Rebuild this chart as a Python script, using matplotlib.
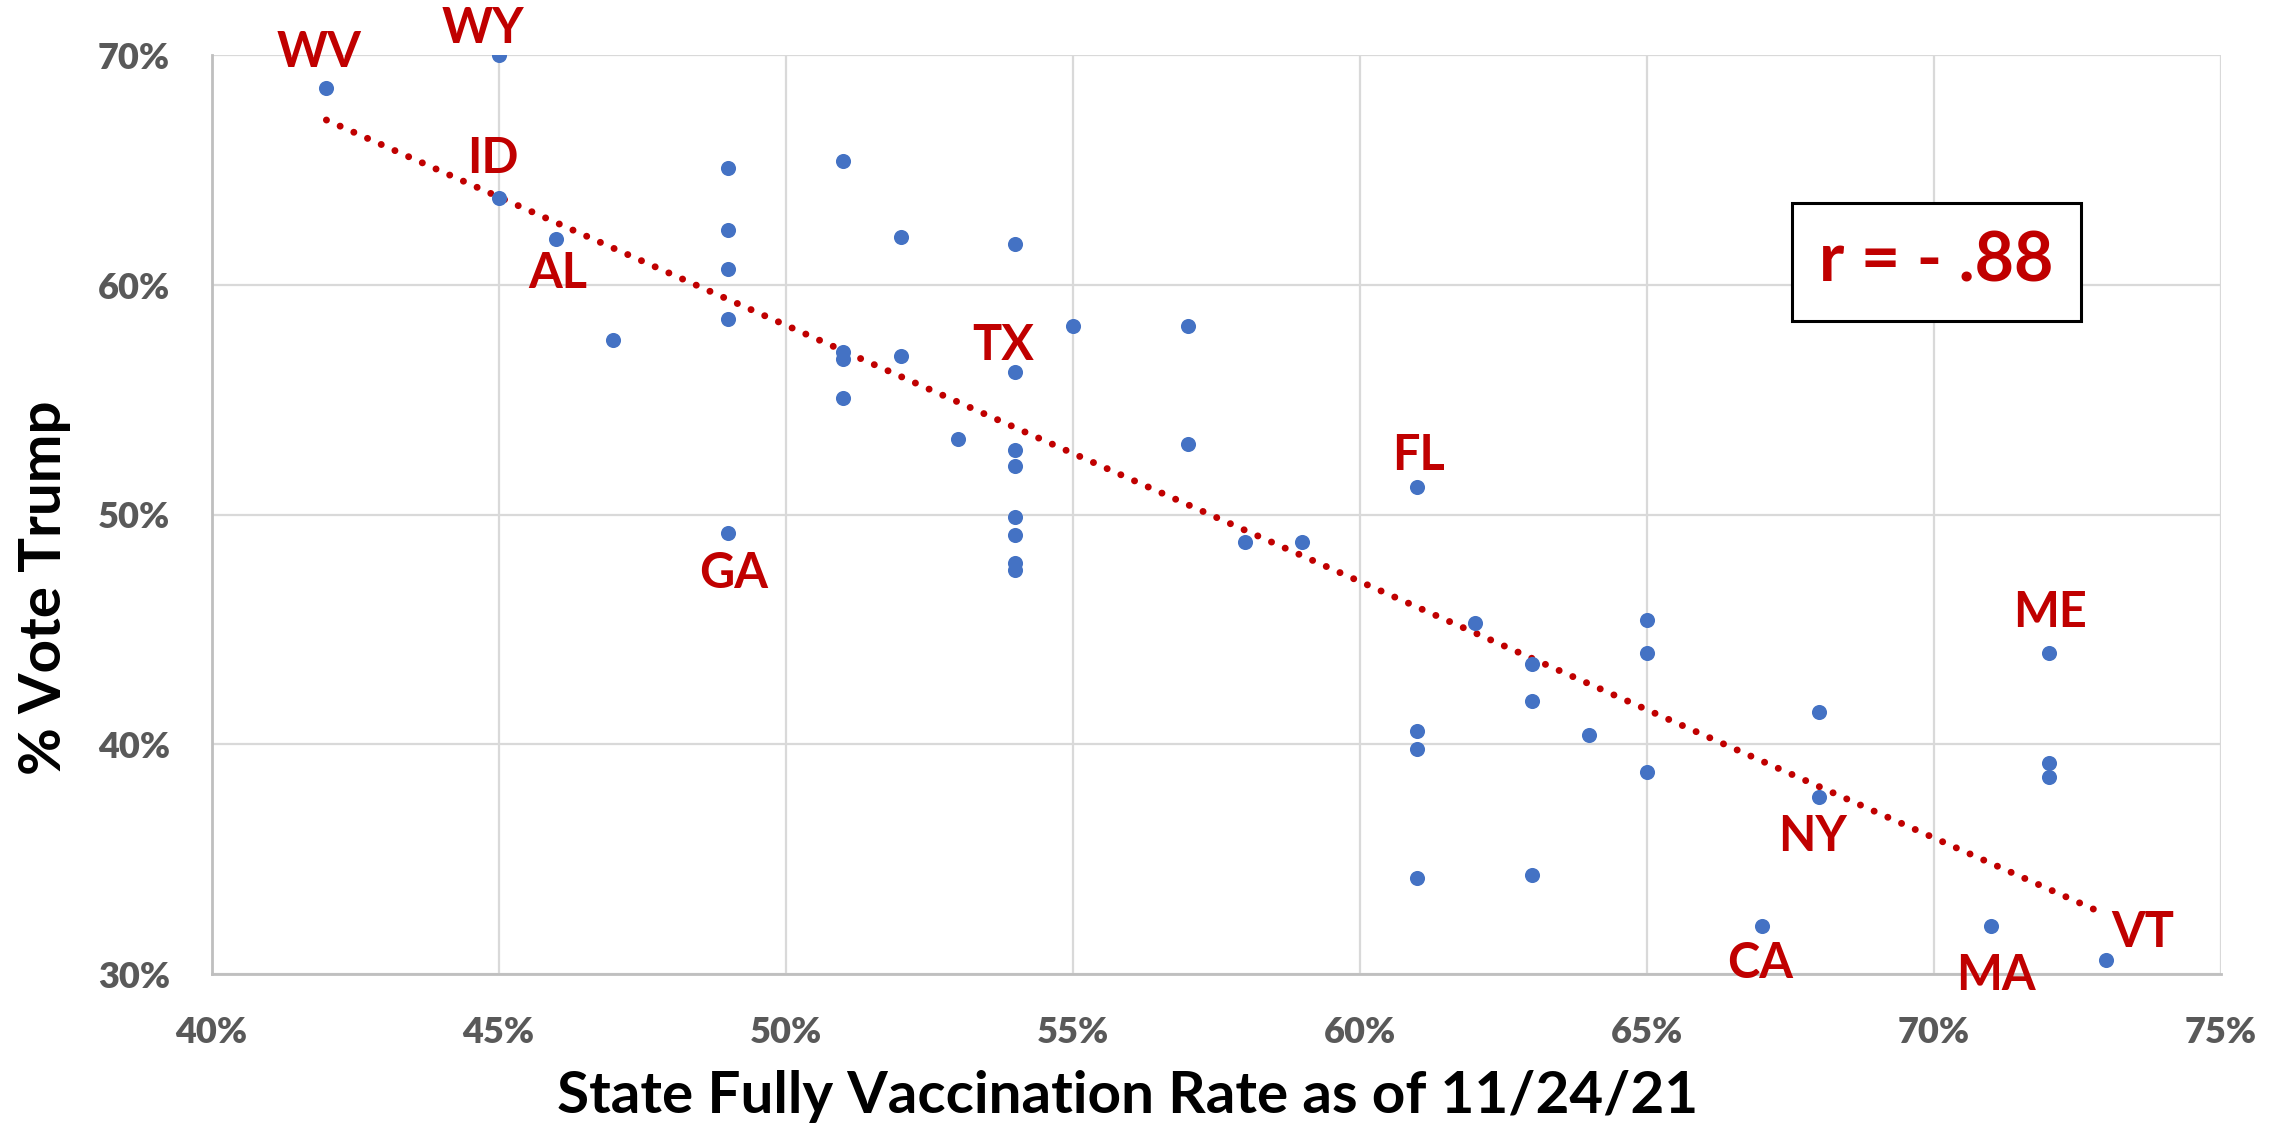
import numpy as np
import matplotlib.pyplot as plt
from matplotlib.ticker import FuncFormatter, MultipleLocator

# state fully vaccinated rate (%) vs trump vote share (%)
vacc = [42, 45, 45, 46, 47,
        49, 49, 49, 49, 49,
        51, 51, 51, 51, 52, 52, 53,
        54, 54, 54, 54, 54, 54, 54, 54,
        55, 57, 57, 58, 59,
        61, 61, 61, 61, 62, 63, 63, 63, 64,
        65, 65, 65, 67, 68, 68, 71, 72, 72, 72, 73]
trump = [68.6, 70.0, 63.8, 62.0, 57.6,
         65.1, 62.4, 60.7, 58.5, 49.2,
         65.4, 57.1, 56.8, 55.1, 62.1, 56.9, 53.3,
         61.8, 56.2, 52.8, 52.1, 49.9, 49.1, 47.9, 47.6,
         58.2, 58.2, 53.1, 48.8, 48.8,
         51.2, 40.6, 39.8, 34.2, 45.3, 43.5, 41.9, 34.3, 40.4,
         45.4, 44.0, 38.8, 32.1, 41.4, 37.7, 32.1, 44.0, 39.2, 38.6, 30.6]
states = ['WV', 'WY', 'ID', 'AL', '',
          '', '', '', '', 'GA',
          '', '', '', '', '', '', '',
          '', 'TX', '', '', '', '', '', '',
          '', '', '', '', '',
          'FL', '', '', '', '', '', '', '', '',
          '', '', '', 'CA', '', 'NY', 'MA', 'ME', '', '', 'VT']

r_text = 'r = - .88'

# label offsets in points
offsets = {'WV': (-5, 25), 'WY': (-11, 19), 'ID': (-4, 28), 'AL': (1, -25),
           'GA': (4, -29), 'TX': (-9, 19), 'FL': (1, 23), 'ME': (1, 29),
           'NY': (-5, -28), 'CA': (-1, -27), 'MA': (3, -36), 'VT': (26, 20)}

red = '#C00000'
blue = '#4472C4'
grey = '#595959'
lato = ['Lato', 'DejaVu Sans']

fig = plt.figure(figsize=(22.85, 11.28), dpi=100)
ax = fig.add_axes([0.0926, 0.1365, 0.8794, 0.8144])

ax.scatter(vacc, trump, s=118, color=blue, zorder=3, linewidths=0)

# linear trendline
k, b = np.polyfit(vacc, trump, 1)
xs = np.array([min(vacc), max(vacc)])
ax.plot(xs, k * xs + b, color=red, lw=5, linestyle=(0, (0.01, 2.15)),
        dash_capstyle='round', zorder=2)

for x, y, s in zip(vacc, trump, states):
    if s:
        ax.annotate(s, (x, y), xytext=offsets[s], textcoords='offset points',
                    ha='center', va='center', color=red, fontsize=35,
                    fontweight='bold', family=lato, annotation_clip=False)

ax.text(70.04, 61.0, r_text, ha='center', va='center', color=red, fontsize=49,
        fontweight='bold', family=lato,
        bbox=dict(boxstyle='square,pad=0.4', fc='white', ec='black', lw=2.2))

ax.set_xlim(40, 75)
ax.set_ylim(30, 70)
ax.xaxis.set_major_locator(MultipleLocator(5))
ax.yaxis.set_major_locator(MultipleLocator(10))
pct = FuncFormatter(lambda v, p: f'{v:.0f}%')
ax.xaxis.set_major_formatter(pct)
ax.yaxis.set_major_formatter(pct)
ax.grid(True, color='#D9D9D9', lw=1.6, zorder=0)
ax.set_axisbelow(True)
ax.tick_params(length=0, labelsize=26, labelcolor=grey)
ax.tick_params(axis='x', pad=30)
ax.tick_params(axis='y', pad=30)
for lab in ax.get_xticklabels() + ax.get_yticklabels():
    lab.set_fontweight('heavy')
    lab.set_family(lato)

for side in ['top', 'right']:
    ax.spines[side].set_visible(False)
for side in ['left', 'bottom']:
    ax.spines[side].set_color('#BFBFBF')
    ax.spines[side].set_linewidth(2)

ax.set_xlabel('State Fully Vaccination Rate as of 11/24/21', fontsize=42,
              fontweight='bold', family=lato, color='black')
ax.xaxis.set_label_coords(0.456, -0.133)
ax.xaxis.label.set_verticalalignment('center')
ax.set_ylabel('% Vote Trump', fontsize=42, fontweight='bold', family=lato,
              color='black')
ax.yaxis.set_label_coords(-0.083, 0.421)
ax.yaxis.label.set_verticalalignment('center')

fig.savefig('out.png', dpi=100)
